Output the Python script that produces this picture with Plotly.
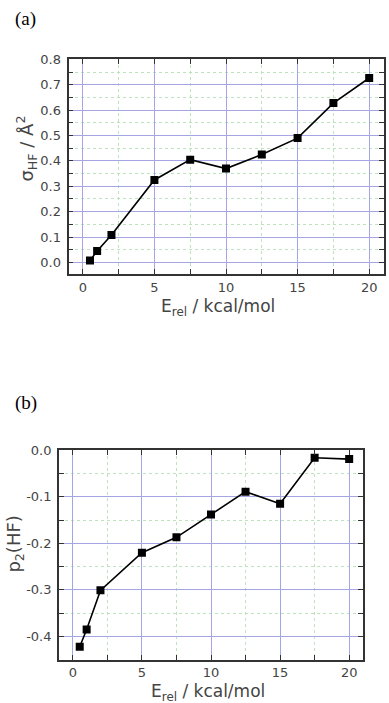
import plotly.graph_objects as go

# ---------------- data ----------------
e_rel = [0.5, 1, 2, 5, 7.5, 10, 12.5, 15, 17.5, 20]
sigma_hf = [0.007, 0.045, 0.108, 0.325, 0.405, 0.370, 0.425, 0.490, 0.628, 0.727]
p2_hf = [-0.422, -0.385, -0.301, -0.220, -0.187, -0.138, -0.089, -0.115, -0.016, -0.019]

x_tickvals = [0, 5, 10, 15, 20]
x_ticktext = ["0", "5", "10", "15", "20"]
ya_tickvals = [0.0, 0.1, 0.2, 0.3, 0.4, 0.5, 0.6, 0.7, 0.8]
ya_ticktext = ["0.0", "0.1", "0.2", "0.3", "0.4", "0.5", "0.6", "0.7", "0.8"]
yb_tickvals = [-0.4, -0.3, -0.2, -0.1, 0.0]
yb_ticktext = ["-0.4", "-0.3", "-0.2", "-0.1", "0.0"]

# ---------------- styling ----------------
W, H = 389, 703
FONT = "DejaVu Sans"
MAJOR_GRID = "rgb(165,165,228)"
MINOR_GRID = "rgb(190,226,190)"
AXIS = "#333333"
TICKFONT = dict(family=FONT, size=13, color="#444444")


def px_x(p):
    return p / W


def px_y(p):
    return 1 - p / H


def axis_style(tickvals, ticktext, rng, minor_dtick, standoff):
    return dict(
        range=rng,
        tickmode="array",
        tickvals=tickvals,
        ticktext=ticktext,
        ticks="inside",
        ticklen=5,
        tickwidth=1.3,
        tickcolor=AXIS,
        showline=True,
        linecolor=AXIS,
        linewidth=1.8,
        mirror="ticks",
        showgrid=True,
        gridcolor=MAJOR_GRID,
        gridwidth=1,
        zeroline=False,
        tickfont=TICKFONT,
        ticklabelstandoff=standoff,
        minor=dict(
            dtick=minor_dtick,
            tick0=0,
            ticks="inside",
            ticklen=5,
            tickwidth=1.3,
            tickcolor=AXIS,
            showgrid=True,
            gridcolor=MINOR_GRID,
            griddash="dot",
            gridwidth=1,
        ),
    )


fig = go.Figure()

line_style = dict(color="black", width=1.6)
marker_style = dict(symbol="square", size=8, color="black")

fig.add_trace(go.Scatter(x=e_rel, y=sigma_hf, mode="lines+markers",
                         line=line_style, marker=marker_style,
                         xaxis="x", yaxis="y", showlegend=False))
fig.add_trace(go.Scatter(x=e_rel, y=p2_hf, mode="lines+markers",
                         line=line_style, marker=marker_style,
                         xaxis="x2", yaxis="y2", showlegend=False))

# panel geometry (pixels)
a_left, a_right, a_top, a_bottom = 68.5, 383.5, 53, 270
b_left, b_right, b_top, b_bottom = 59, 363, 447.7, 659.3

xa = axis_style(x_tickvals, x_ticktext, [-1, 21], 2.5, 0)
xa.update(domain=[px_x(a_left), px_x(a_right)], anchor="y")
ya = axis_style(ya_tickvals, ya_ticktext, [-0.047, 0.8], 0.05, 3)
ya.update(domain=[px_y(a_bottom), px_y(a_top)], anchor="x")

xb = axis_style(x_tickvals, x_ticktext, [-1, 21], 2.5, 0)
xb.update(domain=[px_x(b_left), px_x(b_right)], anchor="y2")
yb = axis_style(yb_tickvals, yb_ticktext, [-0.45, 0.0], 0.05, 3)
yb.update(domain=[px_y(b_bottom), px_y(b_top)], anchor="x2")

title_font = dict(family=FONT, size=18, color="#444444")
xtitle_font = dict(family=FONT, size=17, color="#444444")
serif_font = dict(family="Liberation Serif", size=19, color="black")

annotations = [
    dict(text="(a)", x=px_x(26), y=px_y(12), xref="paper", yref="paper",
         showarrow=False, font=serif_font, xanchor="center", yanchor="middle"),
    dict(text="(b)", x=px_x(26), y=px_y(400), xref="paper", yref="paper",
         showarrow=False, font=serif_font, xanchor="center", yanchor="middle"),
    dict(text="σ<sub>HF</sub> / Å<sup>2</sup>", x=px_x(26), y=px_y(143),
         xref="paper", yref="paper", showarrow=False, textangle=-90,
         font=title_font, xanchor="center", yanchor="middle"),
    dict(text="E<sub>rel</sub> / kcal/mol", x=px_x(218), y=px_y(291),
         xref="paper", yref="paper", showarrow=False,
         font=xtitle_font, xanchor="center", yanchor="top", borderpad=0),
    dict(text="p<sub>2</sub>(HF)", x=px_x(15), y=px_y(543),
         xref="paper", yref="paper", showarrow=False, textangle=-90,
         font=title_font, xanchor="center", yanchor="middle"),
    dict(text="E<sub>rel</sub> / kcal/mol", x=px_x(208), y=px_y(680),
         xref="paper", yref="paper", showarrow=False,
         font=xtitle_font, xanchor="center", yanchor="top", borderpad=0),
]

fig.update_layout(
    width=W, height=H,
    margin=dict(l=0, r=0, t=0, b=0),
    paper_bgcolor="white", plot_bgcolor="white",
    xaxis=xa, yaxis=ya, xaxis2=xb, yaxis2=yb,
    annotations=annotations,
    showlegend=False,
)

fig.write_html(
    "out.html",
    config={"displayModeBar": False},
    post_script="document.body.style.margin='0';document.body.style.overflow='hidden';",
)
